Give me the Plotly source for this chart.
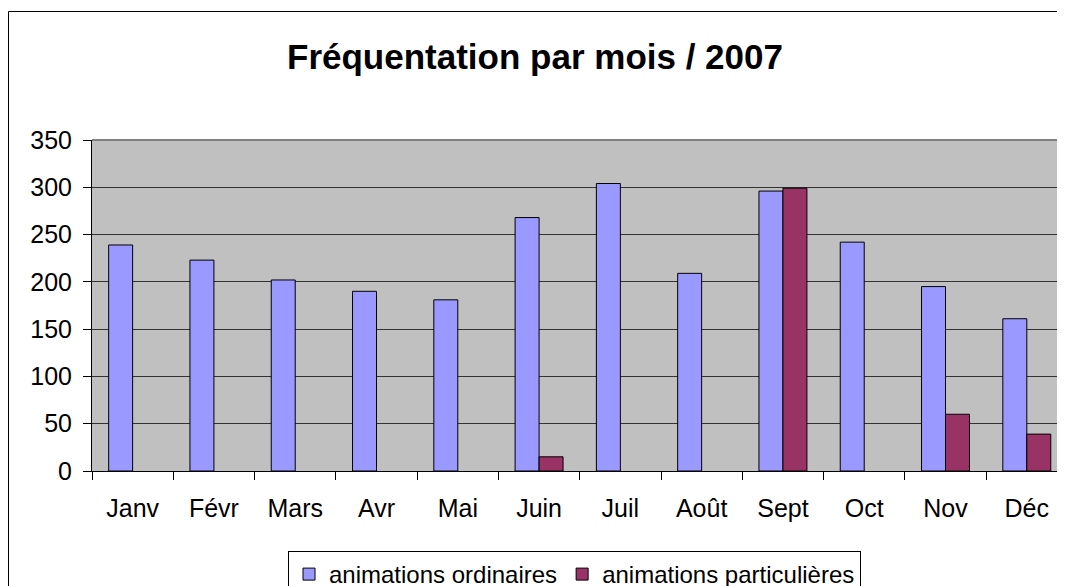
import plotly.graph_objects as go

# données
mois = ["Janv", "Févr", "Mars", "Avr", "Mai", "Juin",
        "Juil", "Août", "Sept", "Oct", "Nov", "Déc"]
ordinaires = [239, 223, 202, 190, 181, 268, 304, 209, 296, 242, 195, 161]
particulieres = [None, None, None, None, None, 15, None, None, 299, None, 60, 39]
y_ticks = [0, 50, 100, 150, 200, 250, 300, 350]

# la page ajoute une marge de 8 px autour de la figure
OFF = 8
W, H = 1065 - OFF, 586 - OFF
L, R, T = 92 - OFF, 0, 140 - OFF
B = H - (471 - OFF)
FONT = "Arial, Liberation Sans, sans-serif"


def px_x(x):
    # x en pixels de l'image de référence -> coordonnée "paper"
    return (x - OFF - L) / (W - L - R)


def px_y(y):
    return (H - B - (y - OFF)) / (H - T - B)


fig = go.Figure()
fig.add_trace(go.Bar(
    x=mois, y=ordinaires, name="animations ordinaires",
    marker=dict(color="#9999FF", line=dict(color="black", width=1)),
))
fig.add_trace(go.Bar(
    x=mois, y=particulieres, name="animations particulières",
    marker=dict(color="#993366", line=dict(color="black", width=1)),
))

fig.update_layout(
    width=W, height=H,
    margin=dict(l=L, r=R, t=T, b=B, autoexpand=False),
    paper_bgcolor="white",
    plot_bgcolor="#C0C0C0",
    font=dict(family=FONT, size=25, color="black"),
    barmode="group",
    bargap=0.41,
    bargroupgap=0,
    title=dict(
        text="<b>Fréquentation par mois / 2007</b>",
        font=dict(family=FONT, size=35, color="black"),
        x=(535 - OFF) / W, xanchor="center", xref="container",
        y=1 - (57 - OFF) / H, yanchor="middle", yref="container",
    ),
    xaxis=dict(
        range=[-0.5, 11.47],
        showgrid=False, zeroline=False,
        showline=True, linecolor="black", linewidth=1,
        ticks="outside", tickson="boundaries", ticklen=8, tickcolor="black",
        ticklabelstandoff=15,
        tickfont=dict(size=25),
    ),
    yaxis=dict(
        range=[0, 350],
        tickvals=y_ticks,
        showgrid=True, gridcolor="#333333", gridwidth=1,
        zeroline=False,
        showline=True, linecolor="black", linewidth=1,
        ticks="outside", ticklen=8, tickcolor="black",
        ticklabelstandoff=6,
        tickfont=dict(size=25),
    ),
    legend=dict(
        orientation="h",
        x=px_x(288), xanchor="left",
        y=px_y(551), yanchor="top",
        bordercolor="black", borderwidth=1,
        bgcolor="white",
        font=dict(size=24),
        tracegroupgap=0,
    ),
    showlegend=True,
)

# bordure haute de la zone de tracé
fig.add_shape(type="line", xref="paper", yref="paper",
              x0=0, x1=1, y0=1, y1=1, line=dict(color="#808080", width=2))
# cadre extérieur du graphique
fig.add_shape(type="rect", xref="paper", yref="paper",
              x0=px_x(OFF + 0.5), x1=px_x(1075), y0=px_y(11.5), y1=px_y(600),
              line=dict(color="black", width=1), layer="below")

fig.write_html("out.html")
